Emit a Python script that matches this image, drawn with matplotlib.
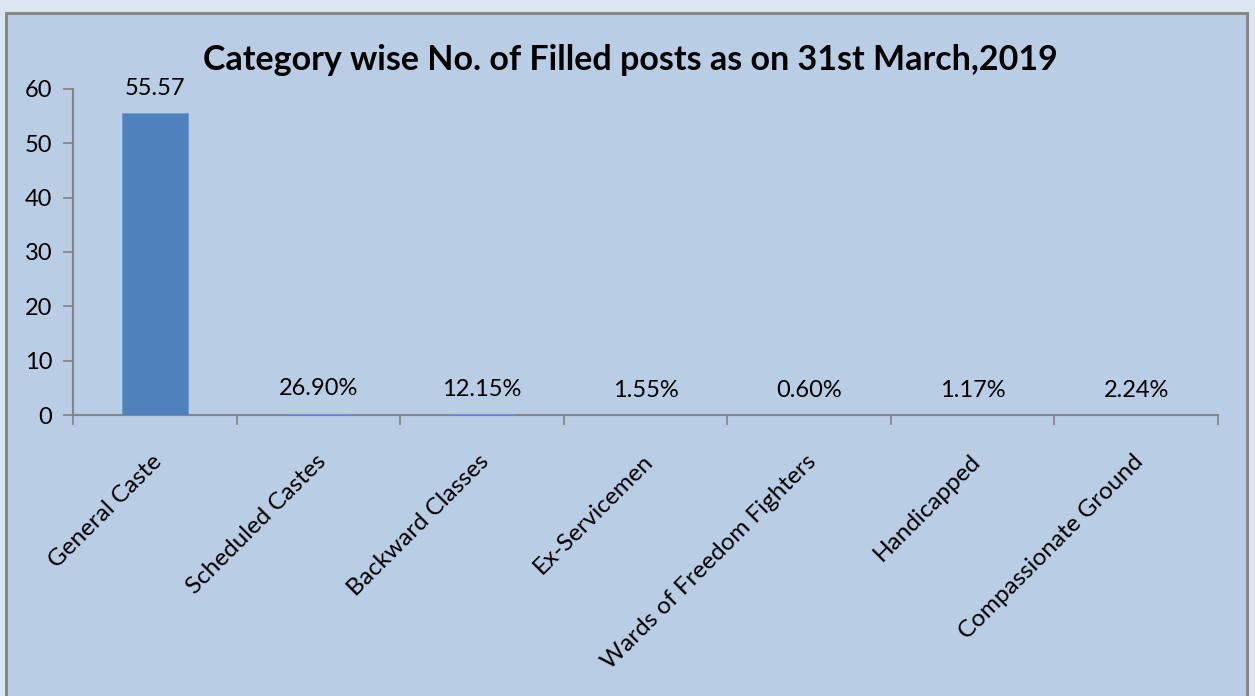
import matplotlib
matplotlib.use("Agg")
import matplotlib.pyplot as plt
from matplotlib.patches import Rectangle

categories = [
    "General Caste",
    "Scheduled Castes",
    "Backward Classes",
    "Ex-Servicemen",
    "Wards of Freedom Fighters",
    "Handicapped",
    "Compassionate Ground",
]
values = [55.57, 0.2690, 0.1215, 0.0155, 0.0060, 0.0117, 0.0224]
value_labels = ["55.57", "26.90%", "12.15%", "1.55%", "0.60%", "1.17%", "2.24%"]
yticks = [0, 10, 20, 30, 40, 50, 60]

plt.rcParams["font.family"] = ["Lato", "DejaVu Sans"]

fig = plt.figure(figsize=(12.55, 6.96), dpi=100)
fig.patch.set_facecolor("#dce6f1")

# chart panel with grey border, behind the axes
panel = Rectangle((6 / 1255, -0.05), (1247 - 6) / 1255, 1 - 13 / 696 + 0.05,
                  transform=fig.transFigure, facecolor="#b9cde5",
                  edgecolor="#878787", linewidth=2.2, zorder=-5)
fig.patches.append(panel)

ax = fig.add_axes([73 / 1255, 1 - 415 / 696, (1218 - 73) / 1255, (415 - 89) / 696])
ax.set_facecolor("none")

x = list(range(len(categories)))
ax.bar(x, values, width=0.4, color="#4f81bd", edgecolor="#6b9bd1", linewidth=0.6, zorder=3)

for xi, v, lab in zip(x, values, value_labels):
    ax.text(xi, v + 2.6, lab, ha="center", va="bottom", fontsize=17, color="black")

ax.set_xlim(-0.5, len(categories) - 0.5)
ax.set_ylim(0, 60)
ax.set_yticks(yticks)
ax.tick_params(axis="y", labelsize=17, length=7, width=1.3, color="#868686", pad=8)

# x ticks at category boundaries, labels at centres
ax.set_xticks([i - 0.5 for i in range(len(categories) + 1)])
ax.set_xticklabels([])
ax.tick_params(axis="x", length=7, width=1.3, color="#868686")
for xi, lab in zip(x, categories):
    ax.text(xi - 0.02, -6.6, lab, rotation=45, ha="right", va="top",
            rotation_mode="anchor", fontsize=17.5, color="black")

for s in ["top", "right"]:
    ax.spines[s].set_visible(False)
for s in ["left", "bottom"]:
    ax.spines[s].set_color("#868686")
    ax.spines[s].set_linewidth(1.5)

fig.text(630 / 1255, 1 - 60 / 696, "Category wise No. of Filled posts as on 31st March,2019",
         ha="center", va="center", fontsize=24.5, fontweight="bold")

fig.savefig("out.png", dpi=100, facecolor=fig.get_facecolor())
